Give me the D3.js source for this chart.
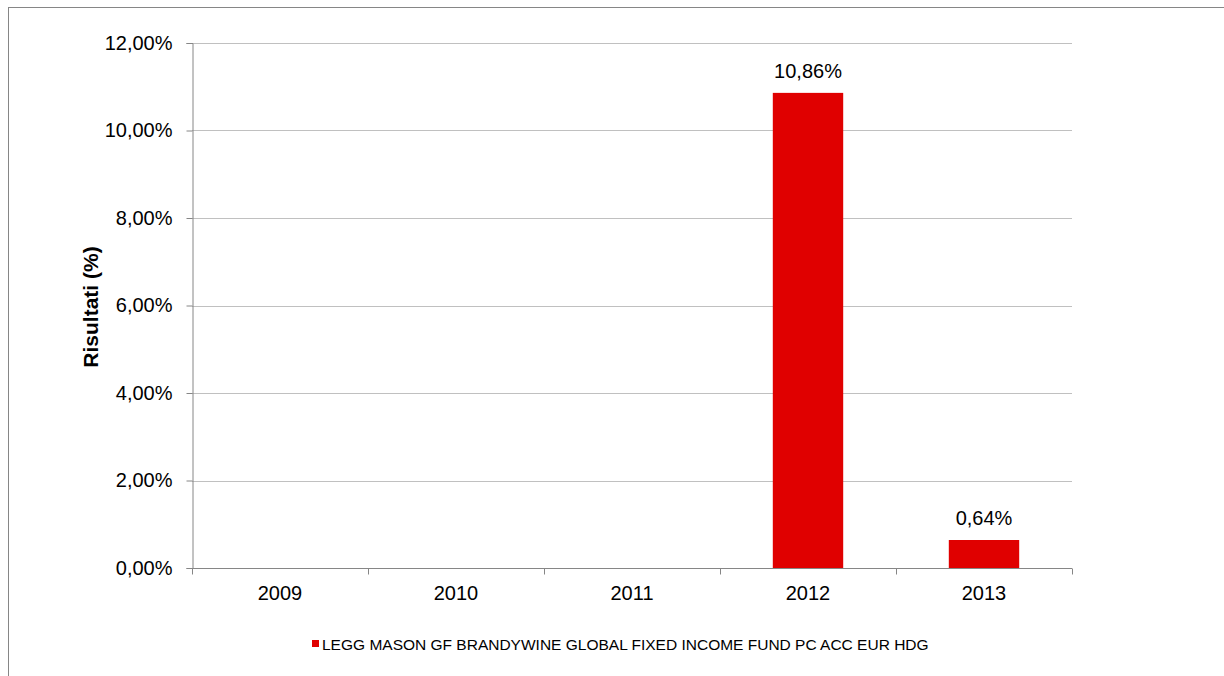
<!DOCTYPE html>
<html>
<head>
<meta charset="utf-8">
<script src="https://cdn.jsdelivr.net/npm/d3@7/dist/d3.min.js"></script>
<style>
  html, body { margin: 0; padding: 0; background: #fff; }
  svg { display: block; }
  text { font-family: "Liberation Sans", Arial, sans-serif; fill: #000; }
</style>
</head>
<body>
<svg id="chart" width="1224" height="676"></svg>
<script>
const categories = ["2009", "2010", "2011", "2012", "2013"];
const values = [null, null, null, 10.86, 0.64];
const valueLabels = ["", "", "", "10,86%", "0,64%"];
const yTicks = [0, 2, 4, 6, 8, 10, 12];
const yTickLabels = ["0,00%", "2,00%", "4,00%", "6,00%", "8,00%", "10,00%", "12,00%"];
const seriesName = "LEGG MASON GF BRANDYWINE GLOBAL FIXED INCOME FUND PC ACC EUR HDG";
const yTitle = "Risultati (%)";

(function () {
const svg = d3.select("#chart");
const W = 1224, H = 676;
const pLeft = 192, pRight = 1072, pTop = 43, pBottom = 568;
const barColor = "#e00000";
const axisColor = "#868686";
const gridColor = "#c0c0c0";
const fs = 20;

// outer chart border
svg.append("rect")
  .attr("x", 8.5).attr("y", 7.5)
  .attr("width", W + 20).attr("height", H + 20)
  .attr("fill", "none").attr("stroke", axisColor).attr("stroke-width", 1);

const x = d3.scaleBand().domain(categories).range([pLeft, pRight]).padding(0);
const y = d3.scaleLinear().domain([0, 12]).range([pBottom, pTop]);

// gridlines
svg.append("g").selectAll("line")
  .data(yTicks.filter(d => d !== 0))
  .join("line")
  .attr("x1", pLeft).attr("x2", pRight)
  .attr("y1", d => Math.round(y(d)) + 0.5).attr("y2", d => Math.round(y(d)) + 0.5)
  .attr("stroke", gridColor).attr("stroke-width", 1);

const rows = categories.map((c, i) => ({ c, v: values[i], l: valueLabels[i] })).filter(d => d.v != null);

// bars
const bw = x.bandwidth() * 0.4;
svg.append("g").selectAll("rect")
  .data(rows)
  .join("rect")
  .attr("x", d => x(d.c) + (x.bandwidth() - bw) / 2)
  .attr("y", d => y(d.v))
  .attr("width", bw)
  .attr("height", d => y(0) - y(d.v))
  .attr("fill", barColor);

// data labels
svg.append("g").selectAll("text")
  .data(rows)
  .join("text")
  .attr("x", d => x(d.c) + x.bandwidth() / 2)
  .attr("y", d => y(d.v) - 15)
  .attr("text-anchor", "middle")
  .attr("font-size", fs)
  .text(d => d.l);

// y axis
const yAxis = d3.axisLeft(y).tickValues(yTicks).tickSize(6).tickPadding(14)
  .tickFormat((d, i) => yTickLabels[i]);
const gy = svg.append("g").attr("transform", `translate(${pLeft + 0.5},0)`).call(yAxis);
gy.select(".domain").attr("stroke", axisColor);
gy.selectAll(".tick line").attr("stroke", axisColor);
gy.selectAll(".tick text").attr("font-size", fs).attr("font-family", "Liberation Sans, Arial, sans-serif").attr("fill", "#000");

// x axis
const xAxis = d3.axisBottom(x).tickSize(0).tickPadding(17);
const gx = svg.append("g").attr("transform", `translate(0,${pBottom + 0.5})`).call(xAxis);
gx.select(".domain").attr("stroke", axisColor).attr("d", `M${pLeft},0H${pRight}`);
gx.selectAll(".tick text").attr("font-size", fs).attr("font-family", "Liberation Sans, Arial, sans-serif").attr("fill", "#000");
// category boundary tick marks
gx.append("g").selectAll("line")
  .data(categories.concat(["end"]))
  .join("line")
  .attr("x1", (d, i) => Math.round(i < categories.length ? x(d) : pRight) + 0.5)
  .attr("x2", (d, i) => Math.round(i < categories.length ? x(d) : pRight) + 0.5)
  .attr("y1", 0).attr("y2", 6)
  .attr("stroke", axisColor);

// y title
svg.append("text")
  .attr("transform", `translate(97.5,307) rotate(-90)`)
  .attr("text-anchor", "middle")
  .attr("font-size", 21)
  .attr("font-weight", "bold")
  .text(yTitle);

// legend
const lg = svg.append("g");
lg.append("rect").attr("x", 312).attr("y", 640).attr("width", 7).attr("height", 7).attr("fill", barColor);
lg.append("text").attr("x", 322).attr("y", 650).attr("font-size", 15.5).text(seriesName);
})();
</script>
</body>
</html>
